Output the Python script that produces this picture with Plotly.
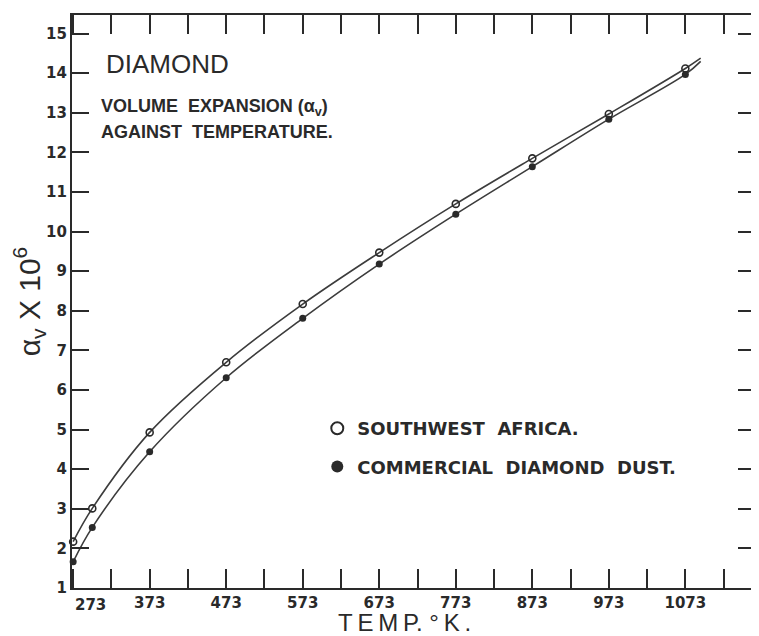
import plotly.graph_objects as go

# ---- data ----
temps = [273, 298, 373, 473, 573, 673, 773, 873, 973, 1073]
sw_africa = [2.17, 3.01, 4.93, 6.70, 8.17, 9.47, 10.70, 11.85, 12.97, 14.12]
diamond_dust = [1.66, 2.53, 4.44, 6.31, 7.81, 9.18, 10.44, 11.64, 12.84, 13.97]
curve_end_temp = 1093
curve_end_sw = 14.38
curve_end_dust = 14.30

x_tick_labels = ["273", "373", "473", "573", "673", "773", "873", "973", "1073"]
x_minor_step = 50
y_ticks = list(range(1, 16))

INK = "#2a2a2a"
LINE = "#3c3c3c"
TICKFONT = dict(family="DejaVu Sans", size=15, color=INK, weight="bold")

# plot-area position in window pixels (page body adds an 8 px offset)
PL, PT, PW, PH = 72, 15, 685, 573


def px(x):
    return (x - PL) / PW


def py(y):
    return 1 - (y - PT) / PH


fig = go.Figure()

# smooth curves
fig.add_trace(go.Scatter(x=temps + [curve_end_temp], y=sw_africa + [curve_end_sw],
                         mode="lines", line=dict(color=LINE, width=1.6, shape="spline", smoothing=1.0),
                         showlegend=False, hoverinfo="skip"))
fig.add_trace(go.Scatter(x=temps + [curve_end_temp], y=diamond_dust + [curve_end_dust],
                         mode="lines", line=dict(color=LINE, width=1.6, shape="spline", smoothing=1.0),
                         showlegend=False, hoverinfo="skip"))

# data points
fig.add_trace(go.Scatter(x=temps, y=sw_africa, mode="markers", name="SOUTHWEST  AFRICA.",
                         legendgroup="a", cliponaxis=False,
                         marker=dict(symbol="circle-open", size=7, color=INK, line=dict(width=1.6, color=INK))))
fig.add_trace(go.Scatter(x=temps, y=diamond_dust, mode="markers", name="COMMERCIAL  DIAMOND  DUST.",
                         legendgroup="b", cliponaxis=False,
                         marker=dict(symbol="circle", size=7, color=INK)))

# first label sits just right of the axis corner, as in the reference
fig.update_xaxes(range=[271.5, 1164],
                 tickvals=[int(t) for t in x_tick_labels[1:]], ticktext=x_tick_labels[1:],
                 ticks="inside", ticklen=19, tickwidth=1.5, tickcolor=INK,
                 minor=dict(ticks="inside", ticklen=19, tickwidth=1.5, tickcolor=INK,
                            tick0=int(x_tick_labels[0]), dtick=x_minor_step, showgrid=False),
                 showline=True, linecolor=INK, linewidth=2.2, mirror="allticks",
                 showgrid=False, zeroline=False, tickfont=TICKFONT)
fig.add_annotation(text=x_tick_labels[0], xref="x", yref="paper",
                   x=int(x_tick_labels[0]), y=py(594), xanchor="left", yanchor="top",
                   showarrow=False, font=TICKFONT)

fig.update_yaxes(range=[1, 15.47], tickvals=y_ticks, ticktext=[str(v) for v in y_ticks],
                 ticks="inside", ticklen=17, tickwidth=1.5, tickcolor=INK,
                 showline=True, linecolor=INK, linewidth=2.2, mirror="allticks",
                 showgrid=False, zeroline=False, tickfont=TICKFONT,
                 title=dict(text="α<sub>v</sub> X 10<sup>6</sup>", standoff=8,
                            font=dict(family="Liberation Sans", size=30, color=INK)))

fig.add_annotation(text="T\u2009E\u2009M\u2009P. °\u2009K\u2009.", xref="paper", yref="paper",
                   x=px(405), y=py(622), xanchor="center", yanchor="middle",
                   showarrow=False, font=dict(family="Liberation Sans", size=24, color=INK))

fig.add_annotation(text="DIAMOND", xref="paper", yref="paper",
                   x=px(104), y=py(64), xanchor="left", yanchor="middle",
                   showarrow=False, font=dict(family="Liberation Sans", size=26, color=INK))
fig.add_annotation(text="VOLUME  EXPANSION (α<sub>v</sub>)", xref="paper", yref="paper",
                   x=px(99), y=py(107), xanchor="left", yanchor="middle",
                   showarrow=False, font=dict(family="Liberation Sans", size=18, color=INK, weight="bold"))
fig.add_annotation(text="AGAINST  TEMPERATURE.", xref="paper", yref="paper",
                   x=px(99), y=py(132), xanchor="left", yanchor="middle",
                   showarrow=False, font=dict(family="Liberation Sans", size=18, color=INK, weight="bold"))

fig.update_layout(
    width=751, height=628,
    margin=dict(l=64, r=2, t=7, b=48),
    paper_bgcolor="white", plot_bgcolor="white",
    legend=dict(x=px(318), y=py(410), xanchor="left", yanchor="top",
                font=dict(family="DejaVu Sans", size=18, color=INK, weight="bold"),
                tracegroupgap=12, itemsizing="constant", bgcolor="rgba(0,0,0,0)"),
)

fig.write_html("out.html")
